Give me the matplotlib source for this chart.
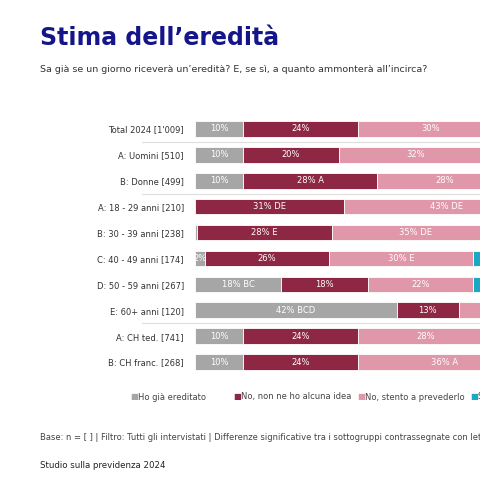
import matplotlib.pyplot as plt
import matplotlib.transforms as mtransforms
import numpy as np

cats = ["Total 2024 [1'009]", "A: Uomini [510]", "B: Donne [499]", "A: 18 - 29 anni [210]",
        "B: 30 - 39 anni [238]", "C: 40 - 49 anni [174]", "D: 50 - 59 anni [267]",
        "E: 60+ anni [120]", "A: CH ted. [741]", "B: CH franc. [268]"]
s1 = [10, 10, 10, 0, 0.5, 2, 18, 42, 10, 10]
s2 = [24, 20, 28, 31, 28, 26, 18, 13, 24, 24]
s3 = [30, 32, 28, 43, 35, 30, 22, 28, 28, 36]
s4 = [12, 12, 12, 10, 12, 12, 14, 8, 12, 10]
l1 = ["10%", "10%", "10%", "", "", "2%", "18% BC", "42% BCD", "10%", "10%"]
l2 = ["24%", "20%", "28% A", "31% DE", "28% E", "26%", "18%", "13%", "24%", "24%"]
l3 = ["30%", "32%", "28%", "43% DE", "35% DE", "30% E", "22%", "", "28%", "36% A"]
names = ["Ho già ereditato", "No, non ne ho alcuna idea", "No, stento a prevederlo", "Sì, all'incirca"]
cols = ["#a6a6a6", "#8e2743", "#e097a9", "#1aa9c4"]

fig = plt.figure(figsize=(4.8, 4.8), dpi=100)
ax = fig.add_axes([195/480, 1-375/480, 1.0, 259/480])
y = np.arange(len(cats))
left = np.zeros(len(cats))
for vals, labs, c, n in zip([s1, s2, s3, s4], [l1, l2, l3, None], cols, names):
    v = np.array(vals)
    ax.barh(y, v, left=left, height=0.6, color=c, edgecolor='white', linewidth=0.6, label=n)
    if labs:
        for yi, (li, vi, lab) in enumerate(zip(left, v, labs)):
            if lab:
                ax.text(li + vi/2, yi, lab, ha='center', va='center', color='white', fontsize=6)
    left += v
ax.set_xlim(0, 100)
ax.set_ylim(len(cats)-0.5, -0.5)
ax.set_yticks(y)
ax.set_yticklabels(cats, fontsize=6, color='#333333')
ax.tick_params(length=0, pad=8)
ax.set_xticks([])
for s in ax.spines.values():
    s.set_visible(False)
tr = mtransforms.blended_transform_factory(ax.transAxes, ax.transData)
for yy in [0.5, 2.5, 7.5]:
    ax.plot([-0.11, 1], [yy, yy], transform=tr, color='#dddddd', lw=0.8, clip_on=False)

fig.text(40/480, 1-38/480, "Stima dell’eredità", fontsize=17, fontweight='bold', color='#15158a', va='center')
fig.text(40/480, 1-70/480, "Sa già se un giorno riceverà un’eredità? E, se sì, a quanto ammonterà all’incirca?", fontsize=6.8, color='#333333', va='center')
xs = [130, 233, 357, 470]
for x, c, n in zip(xs, cols, names):
    fig.text(x/480, 1-397/480, "■", color=c, fontsize=6, va='center')
    fig.text((x+8)/480, 1-397/480, n, color='#444444', fontsize=6, va='center')
fig.text(40/480, 1-437/480, "Base: n = [ ] | Filtro: Tutti gli intervistati | Differenze significative tra i sottogruppi contrassegnate con lettere maiuscole (", fontsize=6, color='#444444', va='center')
fig.text(40/480, 1-465/480, "Studio sulla previdenza 2024", fontsize=6.2, color='#222222', va='center')
fig.savefig("out.png", dpi=100)
